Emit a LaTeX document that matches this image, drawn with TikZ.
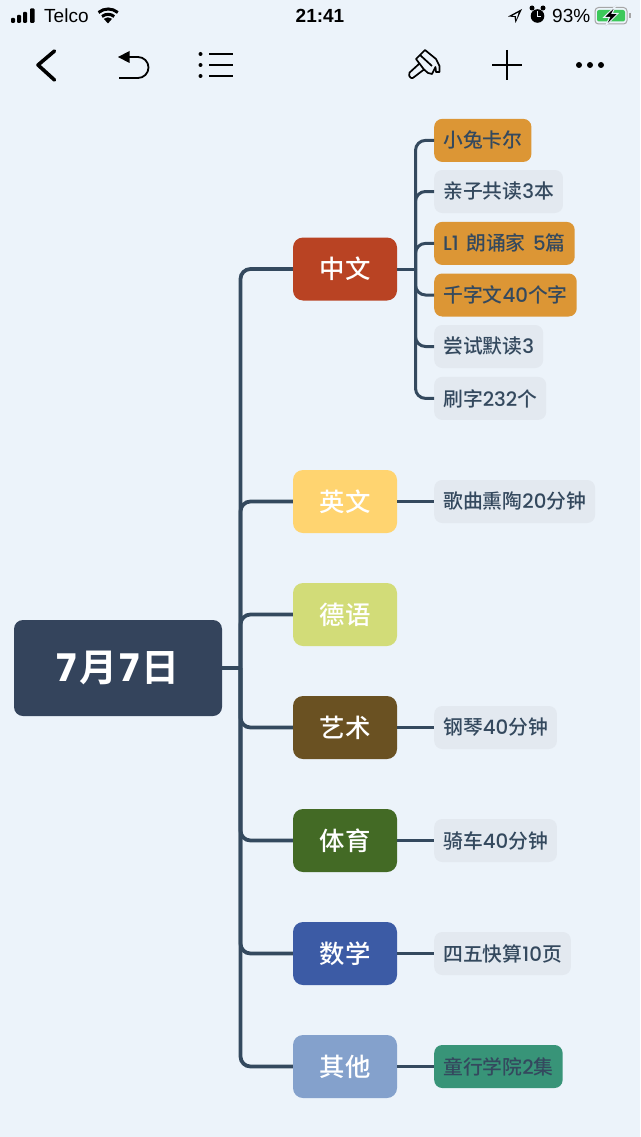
\documentclass[tikz,border=0pt]{standalone}
\usepackage{fontspec}
\setmainfont{Liberation Sans}
\newfontfamily\cjk{Noto Sans CJK SC Medium}
\newfontfamily\cjkbold{Noto Sans CJK SC Bold}
\newfontfamily\digit{Poppins Medium}
\newfontfamily\digitbold{Poppins Bold}
\definecolor{paper}{HTML}{ECF3FA}
\definecolor{slate}{HTML}{34445C}
\definecolor{wire}{HTML}{34495E}
\definecolor{leafgrey}{HTML}{E3E9F0}
\definecolor{amber}{HTML}{DC9635}
\definecolor{charged}{HTML}{3CC85A}
\tikzset{
  rootbox/.style={fill=slate,rounded corners=9pt,minimum width=208pt,minimum height=96pt,text=white,font=\cjkbold\fontsize{38}{38}\selectfont,inner sep=0pt},
  branch/.style={rounded corners=10pt,minimum width=104pt,minimum height=63pt,text=white,font=\cjk\fontsize{25.4}{25.4}\selectfont,inner sep=0pt},
  leaf/.style={anchor=west,fill=leafgrey,rounded corners=8pt,minimum height=43pt,inner xsep=9pt,inner ysep=0pt,text=wire,font=\cjk\fontsize{19.8}{19.8}\selectfont},
  link/.style={draw=wire,line width=3.8pt},
  fork/.style={draw=wire,line width=3pt,rounded corners=10pt},
}
\begin{document}
\begin{tikzpicture}[x=1pt,y=-1pt]
  \fill[paper] (0,0) rectangle (640,1137);
  \useasboundingbox (0,0) rectangle (640,1137);
  % status bar
  \fill[black,rounded corners=1pt] (11,18) rectangle (15,23);
  \fill[black,rounded corners=1pt] (17,15) rectangle (21,23);
  \fill[black,rounded corners=1pt] (23,12) rectangle (27,23);
  \fill[black,rounded corners=1pt] (30,8.5) rectangle (34.5,23);
  \node[anchor=base west,inner sep=0pt,font=\fontsize{19}{19}\selectfont] (telco) at (44,23) {Telco};
  \begin{scope}[black,line width=3pt]
    \draw (98.5,12.5) arc (-130:-50:15);
    \draw (102,16.5) arc (-130:-50:9.5);
    \fill (108,23.5) -- (103.8,18.8) arc (-130:-50:6.4) -- cycle;
  \end{scope}
  \node[anchor=base,inner sep=0pt,font=\bfseries\fontsize{19}{19}\selectfont] (clock) at (320,23) {21:41};
  \fill[black] (522,9) -- (508,16.5) -- (514.5,17) -- (515.5,23) -- cycle;
  \fill[paper] (518.5,12.5) -- (512.5,15.8) -- (516,16) -- (516.5,19.5) -- cycle;
  \fill[black] (537.5,16) circle (6.8);
  \fill[black] (532,8) circle (2.5);
  \fill[black] (543,8) circle (2.5);
  \draw[paper,line width=1pt] (537.5,11.5) -- (537.5,16.5) -- (541,16.5);
  \node[anchor=base west,inner sep=0pt,font=\fontsize{19}{19}\selectfont] (charge) at (552,23) {93\%};
  \draw[gray!70,line width=1pt,rounded corners=3.5pt] (595,7.5) rectangle (627,24);
  \fill[charged,rounded corners=2pt] (597,10) rectangle (625,21.5);
  \fill[gray!70] (629,13) rectangle (630.5,18.5);
  \draw[paper,line width=1pt,fill=black] (616,5.5) -- (603.5,17.5) -- (609.5,17.5) -- (605.5,26) -- (618,13.5) -- (612,13.5) -- cycle;
  % toolbar
  \draw[line width=3.6pt,line cap=round,line join=round] (54.5,51) -- (38,65) -- (54.5,80);
  \fill[black] (118,57) -- (129.5,51) -- (129.5,63) -- cycle;
  \draw[line width=1.8pt] (129,57) -- (138,57) arc (-90:90:10.5) -- (119,78);
  \fill[black] (200.5,54) circle (2);
  \fill[black] (200.5,65) circle (2);
  \fill[black] (200.5,76) circle (2);
  \draw[line width=1.8pt] (209,54) -- (233,54);
  \draw[line width=1.8pt] (209,65) -- (233,65);
  \draw[line width=1.8pt] (209,76) -- (233,76);
  \begin{scope}[line width=1.7pt,line join=round]
    \draw (416,59) -- (425,50) -- (436,59) -- (439.5,66) -- (439.5,72) -- (436,72) -- (435.5,67) -- (432,74) -- (428,73) -- (424,69.5) -- cycle;
    \draw[rounded corners=2pt] (419.5,63.5) -- (408,74) -- (411.5,79) -- (424,69.5);
    \draw (420,55) -- (432,66);
  \end{scope}
  \draw[line width=1.8pt] (507,50) -- (507,80);
  \draw[line width=1.8pt] (492,65) -- (522,65);
  \fill[black] (579,65) circle (3);
  \fill[black] (590,65) circle (3);
  \fill[black] (601,65) circle (3);
  % map
  \draw
    (118,668) node[rootbox] (root){{\digitbold 7}\hspace{2pt}月\hspace{2pt}{\digitbold 7}\hspace{2pt}日}
    (345,269) node[branch,fill={rgb,255:red,185;green,67;blue,35}] (cn){中文}
    (345,501.5) node[branch,fill={rgb,255:red,255;green,212;blue,112}] (en){英文}
    (345,614.5) node[branch,fill={rgb,255:red,210;green,220;blue,120}] (de){德语}
    (345,727.5) node[branch,fill={rgb,255:red,106;green,81;blue,34}] (art){艺术}
    (345,840.5) node[branch,fill={rgb,255:red,67;green,106;blue,37}] (pe){体育}
    (345,953.5) node[branch,fill={rgb,255:red,60;green,91;blue,165}] (math){数学}
    (345,1066.5) node[branch,fill={rgb,255:red,132;green,161;blue,204}] (misc){其他};
  \draw
    (434,140.4) node[leaf,fill=amber] (rabbit){小兔卡尔}
    (434,191.5) node[leaf] (reading){亲子共读{\digit 3}本}
    (434,243.4) node[leaf,fill=amber] (recite){{\digit L1}\hspace{3pt} 朗诵家\hspace{3pt} {\digit 5}篇}
    (434,295) node[leaf,fill=amber] (chars){千字文{\digit 40}个字}
    (434,346.5) node[leaf] (silent){尝试默读{\digit 3}}
    (434,398.4) node[leaf] (brushup){刷字{\digit 232}个}
    (434,501.5) node[leaf] (songs){歌曲熏陶{\digit 20}分钟}
    (434,727.5) node[leaf] (piano){钢琴{\digit 40}分钟}
    (434,840.5) node[leaf] (bike){骑车{\digit 40}分钟}
    (434,953.5) node[leaf] (sums){四五快算{\digit 10}页}
    (434,1066.5) node[leaf,fill={rgb,255:red,56;green,148;blue,120}] (academy){童行学院{\digit 2}集};
  \coordinate (trunk) at (240.5,668);
  \coordinate (stem) at (415.5,269);
  \begin{scope}[link]
    \draw (root) -- (trunk);
    \draw[rounded corners=10pt] (trunk) |- (cn);
    \draw[rounded corners=10pt] (trunk) |- (en);
    \draw[rounded corners=10pt] (trunk) |- (de);
    \draw[rounded corners=10pt] (trunk) |- (art);
    \draw[rounded corners=10pt] (trunk) |- (pe);
    \draw[rounded corners=10pt] (trunk) |- (math);
    \draw[rounded corners=10pt] (trunk) |- (misc);
  \end{scope}
  \begin{scope}[fork]
    \draw (cn) -- (stem);
    \draw (stem) |- (rabbit);
    \draw (stem) |- (reading);
    \draw (stem) |- (recite);
    \draw (stem) |- (chars);
    \draw (stem) |- (silent);
    \draw (stem) |- (brushup);
    \draw (en) -- (songs);
    \draw (art) -- (piano);
    \draw (pe) -- (bike);
    \draw (math) -- (sums);
    \draw (misc) -- (academy);
  \end{scope}
\end{tikzpicture}
\end{document}
